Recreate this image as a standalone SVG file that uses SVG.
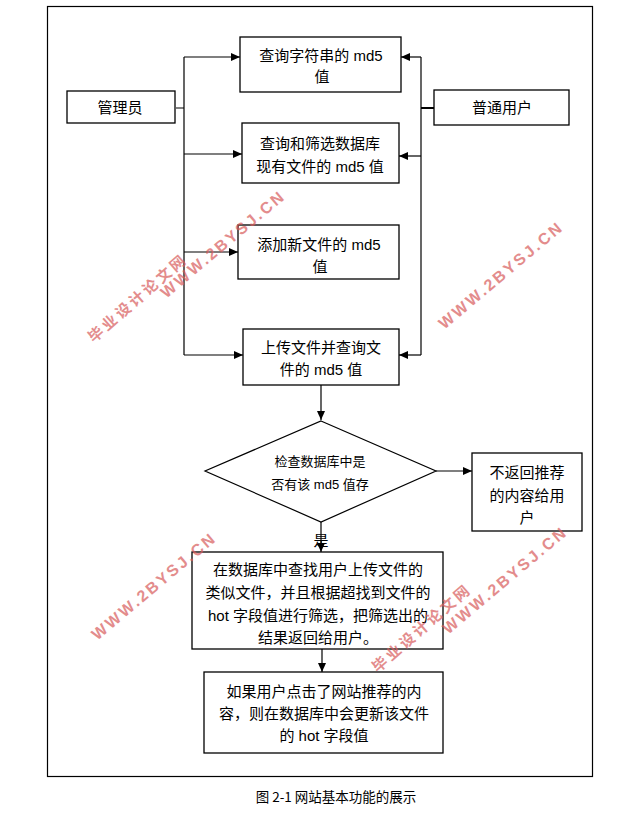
<svg xmlns="http://www.w3.org/2000/svg" width="641" height="823" viewBox="0 0 641 823">
<defs>
<marker id="ah" markerUnits="userSpaceOnUse" markerWidth="9" markerHeight="8" refX="9" refY="4" orient="auto">
<path d="M0,0 L9,4 L0,8 z" fill="#000"/>
</marker>
<style>
.box{fill:#fff;stroke:#000;stroke-width:1.3}
.t{font-family:"Liberation Sans","Noto Sans CJK SC",sans-serif;font-size:15px;fill:#000;text-anchor:middle}
.ts{font-family:"Liberation Sans","Noto Sans CJK SC",sans-serif;font-size:13px;fill:#000;text-anchor:middle}
.ln{fill:none;stroke:#000;stroke-width:1.2}
.wm{font-family:"Liberation Sans","Noto Sans CJK SC",sans-serif;font-size:16px;font-weight:bold;fill:#d85c5c;opacity:0.7;text-anchor:middle;dominant-baseline:central;letter-spacing:2.5px}
.wc{font-family:"Noto Sans CJK SC",sans-serif;font-size:15px;font-weight:bold;fill:#d85c5c;opacity:0.7;text-anchor:middle;dominant-baseline:central;letter-spacing:3px}
</style>
</defs>
<rect x="0" y="0" width="641" height="823" fill="#fff"/>
<rect x="47.5" y="6.5" width="545" height="770" fill="none" stroke="#000" stroke-width="1.2"/>

<g id="connectors">
<path class="ln" d="M176,108 H184 M184,57 V355"/>
<path class="ln" d="M184,57 H240" marker-end="url(#ah)"/>
<path class="ln" d="M184,154 H242" marker-end="url(#ah)"/>
<path class="ln" d="M184,252 H238" marker-end="url(#ah)"/>
<path class="ln" d="M184,355 H243" marker-end="url(#ah)"/>
<path class="ln" d="M421,57 V355"/>
<path d="M421,108 H434" stroke="#000" stroke-width="2"/>
<path class="ln" d="M421,57 H401" marker-end="url(#ah)"/>
<path class="ln" d="M421,156 H399" marker-end="url(#ah)"/>
<path class="ln" d="M421,355 H399" marker-end="url(#ah)"/>
<path class="ln" d="M321,385 V420" marker-end="url(#ah)"/>
<path class="ln" d="M436,471 H472" marker-end="url(#ah)"/>
<path class="ln" d="M321,522 V552" marker-end="url(#ah)"/>
<path class="ln" d="M322,649 V672" marker-end="url(#ah)"/>
<text class="t" x="321" y="546">是</text>
</g>

<g id="admin">
<rect class="box" x="67" y="91" width="108" height="32"/>
<text class="t" x="120" y="113">管理员</text>
</g>
<g id="user">
<rect class="box" x="434" y="90" width="135" height="35"/>
<text class="t" x="502" y="113">普通用户</text>
</g>
<g id="n1">
<rect class="box" x="240" y="37" width="161" height="55"/>
<text class="t" x="321" y="61">查询字符串的 md5</text>
<text class="t" x="322" y="82">值</text>
</g>
<g id="n2">
<rect class="box" x="242" y="123" width="157" height="60"/>
<text class="t" x="320" y="149">查询和筛选数据库</text>
<text class="t" x="320" y="172">现有文件的 md5 值</text>
</g>
<g id="n3">
<rect class="box" x="238" y="225" width="161" height="54"/>
<text class="t" x="319" y="250">添加新文件的 md5</text>
<text class="t" x="320" y="272">值</text>
</g>
<g id="n4">
<rect class="box" x="243" y="329" width="156" height="56"/>
<text class="t" x="321" y="353">上传文件并查询文</text>
<text class="t" x="321" y="375">件的 md5 值</text>
</g>
<g id="check">
<polygon points="321,421 436,471 321,522 205,471" fill="#fff" stroke="#000" stroke-width="1.2"/>
<text class="ts" x="320" y="466">检查数据库中是</text>
<text class="ts" x="320" y="489">否有该 md5 值存</text>
</g>
<g id="noreturn">
<rect class="box" x="472" y="453" width="110" height="78"/>
<text class="t" x="527" y="478">不返回推荐</text>
<text class="t" x="527" y="501">的内容给用</text>
<text class="t" x="527" y="523">户</text>
</g>
<g id="n5">
<rect class="box" x="192" y="552" width="251" height="97"/>
<text class="t" x="318" y="575">在数据库中查找用户上传文件的</text>
<text class="t" x="318" y="598">类似文件，并且根据超找到文件的</text>
<text class="t" x="318" y="621">hot 字段值进行筛选，把筛选出的</text>
<text class="t" x="318" y="643">结果返回给用户。</text>
</g>
<g id="n6">
<rect class="box" x="204" y="672" width="239" height="81"/>
<text class="t" x="324" y="697">如果用户点击了网站推荐的内</text>
<text class="t" x="324" y="719">容，则在数据库中会更新该文件</text>
<text class="t" x="324" y="741">的 hot 字段值</text>
</g>

<text x="336" y="802" font-family="'Noto Sans CJK SC',sans-serif" font-size="13.5" text-anchor="middle">图 2-1 网站基本功能的展示</text>

<g id="watermarks">
<text class="wm" transform="translate(223,244) rotate(-40)">WWW.2BYSJ.CN</text>
<text class="wm" transform="translate(501,275) rotate(-40)">WWW.2BYSJ.CN</text>
<text class="wm" transform="translate(154,586) rotate(-40)">WWW.2BYSJ.CN</text>
<text class="wm" transform="translate(505,580) rotate(-40)">WWW.2BYSJ.CN</text>
<text class="wc" transform="translate(137,297) rotate(-41)">毕业设计论文网</text>
<text class="wc" transform="translate(421,627) rotate(-41)">毕业设计论文网</text>
</g>
</svg>
